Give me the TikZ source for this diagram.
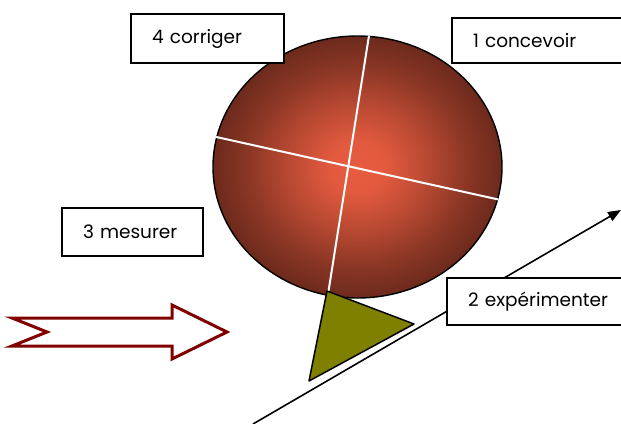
\documentclass[tikz,border=0pt]{standalone}
\usepackage{fontspec}
\setmainfont{Poppins}
\usetikzlibrary{arrows.meta,shapes.geometric}
\definecolor{ballin}{RGB}{232,92,64}
\definecolor{ballout}{RGB}{108,42,28}
\definecolor{wedgeolive}{RGB}{128,128,0}
\definecolor{darkred}{RGB}{128,0,0}
\pgfdeclareradialshading{ballshade}{\pgfpoint{0bp}{0bp}}{color(0bp)=(ballin); color(5bp)=(ballin!95!ballout); color(12bp)=(ballin!62!ballout); color(19bp)=(ballin!25!ballout); color(25bp)=(ballout); color(50bp)=(ballout)}

\begin{document}
\begin{tikzpicture}[
  x=1pt, y=-1pt,
  ball/.style={ellipse, draw=black, line width=1.4pt, shading=ballshade, minimum width=289pt, minimum height=262pt, inner sep=0pt},
  cross/.style={draw=white, line width=2pt},
  wedge/.style={draw=black, line width=1.5pt, fill=wedgeolive, line join=round},
  pointer/.style={-{Triangle[length=13pt,width=10pt]}, line width=1.6pt},
  stage/.style={rectangle, draw=black, line width=1.7pt, fill=white, inner xsep=21pt, inner ysep=0pt, align=left, font=\fontsize{18.5}{22}\selectfont},
  bigarrow/.style={draw=darkred, line width=3pt, fill=white, line join=miter}
]
\useasboundingbox (0,0) rectangle (621,423);

\node[ball] (ball) at (357.5,167) {};
\draw[cross] (ball.85) -- (ball.257);
\draw[cross] (ball.168) -- (ball.347);

\draw[wedge] (327,291) -- (414,324) -- (309,381) -- cycle;

\coordinate (lnstart) at (253,424);
\coordinate (lnend) at (621,210);
\draw[pointer] (lnstart) -- (lnend);

% stages of the cycle
\node[stage, text width=111pt, minimum height=49pt] (corriger) at (207.5,38.5) {4 corriger};
\node[stage, text width=140pt, minimum height=45pt] (concevoir) at (543,40.5) {1 concevoir};
\node[stage, text width=99pt, minimum height=48pt] (mesurer) at (132.5,232) {3 mesurer};
\node[stage, text width=170pt, minimum height=47pt] (experimenter) at (553,301.5) {2 exp\'erimenter};

\draw[bigarrow] (12,318) -- (172,318) -- (172,305) -- (227,332) -- (172,359) -- (172,346) -- (12,346) -- (47,332) -- cycle;
\end{tikzpicture}
\end{document}
